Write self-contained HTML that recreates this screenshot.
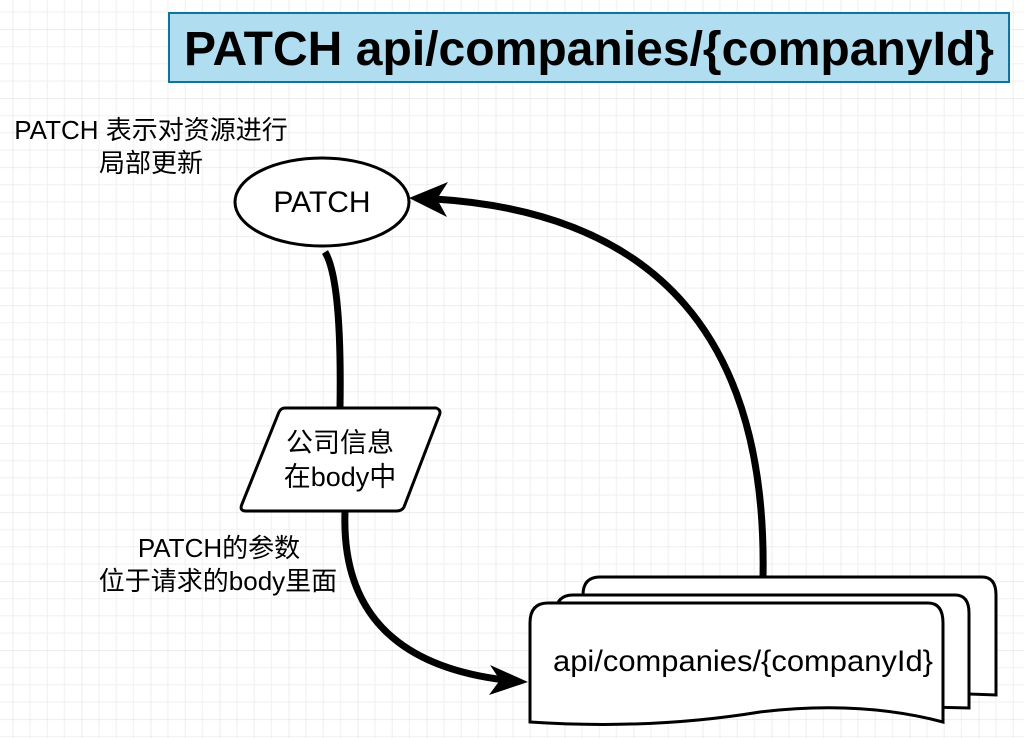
<!DOCTYPE html>
<html><head><meta charset="utf-8"><style>
html,body{margin:0;padding:0;background:#fff;}
body{width:1024px;height:738px;overflow:hidden;position:relative;font-family:"Liberation Sans","Noto Sans CJK SC",sans-serif;}
svg{position:absolute;left:0;top:0;}
</style></head><body>
<svg width="1024" height="738" viewBox="0 0 1024 738">
<defs>
<pattern id="g" x="12.7" y="29.3" width="69" height="69" patternUnits="userSpaceOnUse">
<path d="M17.25 0V69M34.5 0V69M51.75 0V69M0 17.25H69M0 34.5H69M0 51.75H69" stroke="#f0f0f0" stroke-width="1"/>
<path d="M0 0V69M0 0H69" stroke="#e2e2e2" stroke-width="1.3"/>
</pattern>
</defs>
<rect width="1024" height="738" fill="url(#g)"/>
<rect x="169" y="13" width="840" height="69" fill="#b1ddf0" stroke="#10739e" stroke-width="2"/>
<text x="589" y="65" text-anchor="middle" font-size="48" font-weight="bold" font-family="Liberation Sans" textLength="810" lengthAdjust="spacingAndGlyphs">PATCH api/companies/{companyId}</text>

<text x="151" y="139" text-anchor="middle" font-size="26" font-family="Liberation Sans, Noto Sans CJK SC, sans-serif">PATCH 表示对资源进行</text>
<text x="151" y="172" text-anchor="middle" font-size="26" font-family="Liberation Sans, Noto Sans CJK SC, sans-serif">局部更新</text>

<ellipse cx="322" cy="202" rx="87" ry="44" fill="#fff" stroke="#000" stroke-width="3"/>
<text x="322" y="212" text-anchor="middle" font-size="30" font-family="Liberation Sans">PATCH</text>

<path d="M325 252 Q342 280 340 408" fill="none" stroke="#000" stroke-width="7"/>
<path d="M285 408 H436 Q442 410 439 416 L404 507 Q402 511 396 511 H246 Q239 511 242 504 L279 412 Q281 408 285 408Z" fill="#fff" stroke="#000" stroke-width="3"/>
<text x="340" y="452" text-anchor="middle" font-size="27" font-family="Liberation Sans, Noto Sans CJK SC, sans-serif">公司信息</text>
<text x="340" y="486" text-anchor="middle" font-size="27" font-family="Liberation Sans, Noto Sans CJK SC, sans-serif">在body中</text>

<path d="M345 512 Q340 660 505 680" fill="none" stroke="#000" stroke-width="7"/>
<path d="M528 682 L490 665 L500 680 L489 695Z" fill="#000"/>
<text x="219" y="557" text-anchor="middle" font-size="26" font-family="Liberation Sans, Noto Sans CJK SC, sans-serif">PATCH的参数</text>
<text x="218" y="590" text-anchor="middle" font-size="26" font-family="Liberation Sans, Noto Sans CJK SC, sans-serif">位于请求的body里面</text>

<path d="M763 578 Q770 220 435 199" fill="none" stroke="#000" stroke-width="7"/>
<path d="M409 198 L448 182 L437 199 L447 217Z" fill="#000"/>

<g stroke="#000" stroke-width="3" fill="#fff">
<path d="M583 595 Q583 577 600 577 H982 Q996 577 996 595 V695 L583 680Z"/>
<path d="M556 613 Q556 595 573 595 H955 Q969 595 969 613 V708 L556 698Z"/>
<path d="M530 623 Q530 603 548 603 H928 Q943 603 943 623 V722 Q860 700 760 712 Q650 730 530 722Z"/>
</g>
<text x="743" y="671" text-anchor="middle" font-size="30" font-family="Liberation Sans" textLength="380" lengthAdjust="spacingAndGlyphs">api/companies/{companyId}</text>
</svg>
</body></html>
